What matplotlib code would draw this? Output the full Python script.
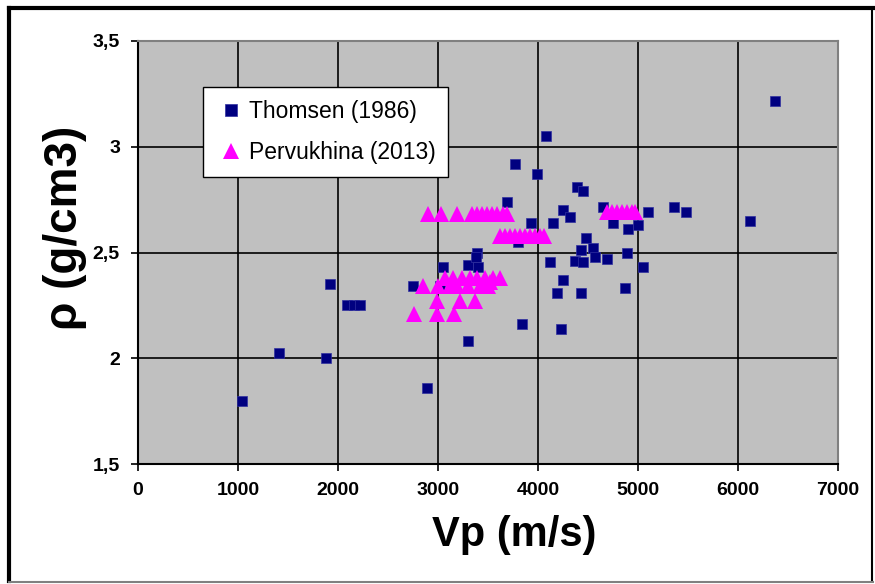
import matplotlib
matplotlib.use("Agg")
import matplotlib.pyplot as plt
from matplotlib.ticker import FuncFormatter, MultipleLocator
from matplotlib.lines import Line2D

plt.rcParams['font.family'] = ['Liberation Sans', 'DejaVu Sans']

# Thomsen (1986) data
thomsen_vp = [1040, 1410, 1880, 1920, 2090, 2160, 2220, 2750, 2890, 3020,
              3050, 3300, 3300, 3390, 3400, 3380, 3690, 3770, 3800, 3840,
              3930, 3990, 4080, 4120, 4150, 4190, 4230, 4250, 4250, 4320,
              4370, 4390, 4430, 4430, 4450, 4450, 4480, 4550, 4570, 4650,
              4690, 4750, 4870, 4890, 4900, 5000, 5050, 5100, 5360, 5480,
              6120, 6370]
thomsen_rho = [1.80, 2.025, 2.00, 2.35, 2.25, 2.25, 2.25, 2.34, 1.86, 2.34,
               2.43, 2.08, 2.44, 2.50, 2.43, 2.48, 2.74, 2.92, 2.55, 2.16,
               2.64, 2.87, 3.05, 2.455, 2.64, 2.31, 2.14, 2.70, 2.37, 2.67,
               2.46, 2.81, 2.51, 2.31, 2.79, 2.455, 2.57, 2.52, 2.48, 2.715,
               2.47, 2.64, 2.33, 2.50, 2.61, 2.63, 2.43, 2.69, 2.715, 2.69,
               2.65, 3.215]

# Pervukhina (2013) data
perv_vp = [2900, 3030, 3190, 3340, 3390, 3440, 3490, 3540, 3590, 3650, 3690,
           3620, 3670, 3720, 3770, 3820, 3870, 3920, 3970, 4020, 4060,
           4690, 4740, 4790, 4840, 4890, 4940, 4970,
           2760, 2990, 3160,
           2990, 3220, 3370,
           2850, 3000, 3120, 3190, 3300, 3420, 3500,
           3070, 3150, 3240, 3320, 3390, 3470, 3550, 3620, 3520]
perv_rho = [2.68] * 11 + [2.58] * 10 + [2.69] * 7 + \
           [2.21] * 3 + [2.27] * 3 + [2.34] * 7 + \
           [2.38] * 8 + [2.36]

fig = plt.figure(figsize=(8.75, 5.84), dpi=100)
ax = fig.add_axes([138 / 875, 1 - 464 / 584, 700 / 875, 423 / 584])

ax.set_facecolor('#C0C0C0')
ax.set_xlim(0, 7000)
ax.set_ylim(1.5, 3.5)
ax.xaxis.set_major_locator(MultipleLocator(1000))
ax.yaxis.set_major_locator(MultipleLocator(0.5))
ax.yaxis.set_major_formatter(FuncFormatter(lambda v, p: f"{v:g}".replace('.', ',')))
ax.grid(True, color='black', linewidth=1.2)
ax.set_axisbelow(True)

for side in ['left', 'bottom']:
    ax.spines[side].set_color('black')
    ax.spines[side].set_linewidth(1.5)
for side in ['top', 'right']:
    ax.spines[side].set_color('#808080')
    ax.spines[side].set_linewidth(1.5)

ax.tick_params(direction='out', length=5, width=1.2, pad=8, labelsize=14)
for lab in ax.get_xticklabels() + ax.get_yticklabels():
    lab.set_fontweight('bold')

ax.plot(thomsen_vp, thomsen_rho, 's', markersize=7.5, color='#000080',
        markeredgecolor='#3030A0', markeredgewidth=0.5, linestyle='none',
        label='Thomsen (1986)', zorder=3)
ax.plot(perv_vp, perv_rho, '^', markersize=11, color='#FF00FF',
        markeredgewidth=0, linestyle='none', label='Pervukhina (2013)', zorder=4)

leg = ax.legend(loc='upper left', bbox_to_anchor=(65 / 700, 1 - 46 / 423),
                borderaxespad=0, fontsize=16.5, frameon=True, fancybox=False,
                framealpha=1, edgecolor='black', handletextpad=0.15,
                labelspacing=0.8, borderpad=0.55, markerscale=1.1,
                handlelength=1.3)
leg.get_frame().set_linewidth(1.0)

# axis titles, placed where they sit in the original
fig.text(514 / 875, 1 - 535 / 584, 'Vp (m/s)', fontsize=30, fontweight='bold',
         ha='center', va='center')
fig.text(65 / 875, 1 - 228 / 584, 'ρ (g/cm3)', fontsize=33, fontweight='bold',
         ha='center', va='center', rotation=90)

# outer frame
fig.add_artist(Line2D([9 / 875, 9 / 875], [0.005, 1 - 8 / 584], transform=fig.transFigure,
                      color='black', linewidth=3))
fig.add_artist(Line2D([9 / 875, 0.998], [1 - 8 / 584, 1 - 8 / 584], transform=fig.transFigure,
                      color='black', linewidth=3))
fig.add_artist(Line2D([0.997, 0.997], [0.005, 1 - 8 / 584], transform=fig.transFigure,
                      color='black', linewidth=1.5))
fig.add_artist(Line2D([9 / 875, 0.998], [0.004, 0.004], transform=fig.transFigure,
                      color='#808080', linewidth=1.5))

fig.savefig('out.png', dpi=100)
